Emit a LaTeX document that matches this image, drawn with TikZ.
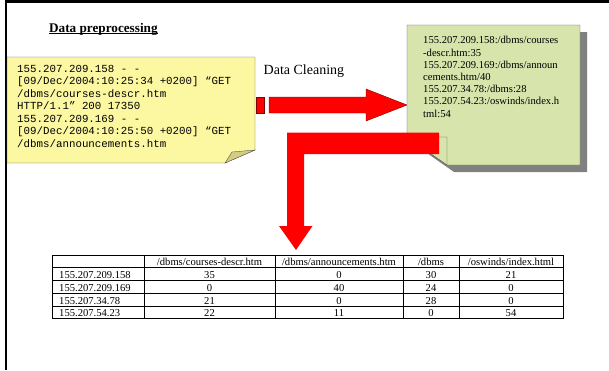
\documentclass[tikz,border=0pt]{standalone}
\usepackage{fontspec}
\setmainfont{Liberation Serif}
\setmonofont{Liberation Mono}
\definecolor{notey}{RGB}{252,248,162}
\definecolor{foldy}{RGB}{214,204,128}
\definecolor{noteg}{RGB}{215,228,172}
\begin{document}
\begin{tikzpicture}[x=1pt,y=-1pt,
  logtxt/.style={anchor=base west,inner sep=0,font=\ttfamily\fontsize{10.8}{12}\selectfont},
  cleantxt/.style={anchor=base west,inner sep=0,font=\fontsize{10.6}{12}\selectfont},
  cell/.style={anchor=base,inner sep=0,font=\fontsize{10.6}{12}\selectfont}]
\useasboundingbox (0,0) rectangle (609,370);
\draw[line width=3] (5,1.5)--(609,1.5);
\draw[line width=2.5] (6.2,0)--(6.2,370);
% heading
\node[anchor=base west,inner sep=0,font=\bfseries\fontsize{13.2}{15}\selectfont] (ttl) at (49,32.3) {Data preprocessing};
\draw[line width=.8] ([yshift=-1.5pt]ttl.base west)--([yshift=-1.5pt]ttl.base east);
% raw log note
\draw[gray!70!black,fill=notey] (7,57)--(255,57)--(255,150)--(225,163)--(7,163)--cycle;
\draw[gray!70!black,fill=foldy] (225,163)--(232,152)--(255,150)--cycle;
\foreach \t [count=\i] in {155.207.209.158 - -,{[09/Dec/2004:10:25:34 +0200] “GET},/dbms/courses-descr.htm,HTTP/1.1” 200 17350,155.207.209.169 - -,{[09/Dec/2004:10:25:50 +0200] “GET},/dbms/announcements.htm}
  \node[logtxt] (log\i) at (17,59.5+12.5*\i) {\t};
% striped arrow
\draw[red!50!black,fill=red] (256,97) rectangle (264,113);
\draw[red!50!black,fill=red] (269,97)--(366,97)--(366,89)--(407,105)--(366,121)--(366,113)--(269,113)--cycle;
\node[anchor=base west,inner sep=0,font=\fontsize{14}{16}\selectfont] (clean) at (263.5,74) {Data Cleaning};
% cleaned note
\fill[gray] (414,32)--(587,32)--(587,172)--(454,172)--(414,144)--cycle;
\draw[gray!70!black,fill=noteg] (407,25)--(580,25)--(580,165)--(447,165)--(407,137)--cycle;
\draw[gray!70!black,fill=noteg] (407,137)--(447,137)--(447,165)--cycle;
\foreach \t [count=\i] in {155.207.209.158:/dbms/courses,-descr.htm:35,155.207.209.169:/dbms/announ,cements.htm/40,155.207.34.78:/dbms:28,155.207.54.23:/oswinds/index.h,tml:54}
  \node[cleantxt] (cl\i) at (423,31.6+12.2*\i) {\t};
% bent arrow
\fill[red] (439,132.7)--(287,132.7)--(287,226)--(279,226)--(296,250)--(312.5,226)--(304,226)--(304,154)--(439,154)--cycle;
% table
\draw[line width=1] (52,255) rectangle (563,318.75);
\foreach \y in {267.75,280.5,293.25,306}{\draw[line width=.7] (52,\y)--(563,\y);}
\foreach \x in {144,275,403,459}{\draw[line width=.7] (\x,255)--(\x,318.75);}
\node[cell] (h1) at (209.5,265.95) {/dbms/courses-descr.htm};
\node[cell] (h2) at (339,265.95) {/dbms/announcements.htm};
\node[cell] (h3) at (431,265.95) {/dbms};
\node[cell] (h4) at (511,265.95) {/oswinds/index.html};
\foreach \r/\ip/\a/\b/\c/\d in {1/155.207.209.158/35/0/30/21,2/155.207.209.169/0/40/24/0,3/155.207.34.78/21/0/28/0,4/155.207.54.23/22/11/0/54}{
  \node[cell,anchor=base west] (ip\r) at (59,265.95+12.75*\r) {\ip};
  \node[cell] (a\r) at (209.5,265.95+12.75*\r) {\a};
  \node[cell] (b\r) at (339,265.95+12.75*\r) {\b};
  \node[cell] (c\r) at (431,265.95+12.75*\r) {\c};
  \node[cell] (d\r) at (511,265.95+12.75*\r) {\d};}
\end{tikzpicture}
\end{document}
